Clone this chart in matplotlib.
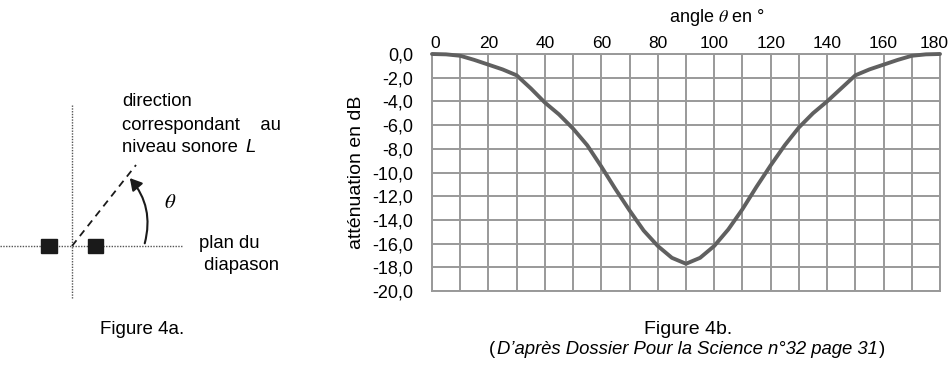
import numpy as np
import matplotlib
matplotlib.use("Agg")
import matplotlib.pyplot as plt
from matplotlib.patches import Rectangle, FancyArrowPatch
from matplotlib.transforms import ScaledTranslation

plt.rcParams['font.family'] = ['Liberation Sans', 'DejaVu Sans']
plt.rcParams['mathtext.fontset'] = 'stix'

# data
angles = [0, 5, 10, 15, 20, 25, 30, 35, 40, 45, 50, 55, 60, 65, 70, 75, 80, 85, 90,
          95, 100, 105, 110, 115, 120, 125, 130, 135, 140, 145, 150, 155, 160, 165, 170, 175, 180]
attenuation = [0.0, -0.03, -0.15, -0.5, -0.9, -1.3, -1.8, -2.9, -4.1, -5.1, -6.3, -7.7, -9.5,
               -11.4, -13.2, -14.9, -16.2, -17.2, -17.7,
               -17.2, -16.2, -14.8, -13.1, -11.2, -9.4, -7.7, -6.2, -5.0, -4.0, -2.9, -1.8,
               -1.3, -0.9, -0.5, -0.15, -0.03, 0.0]
x_grid = list(range(0, 181, 10))
y_ticks = list(range(0, -21, -2))

W, H = 953, 371
fig = plt.figure(figsize=(W / 100, H / 100), dpi=100)

# background axes in pixel coordinates for the sketch and captions
bg = fig.add_axes([0, 0, 1, 1])
bg.set_xlim(0, W)
bg.set_ylim(H, 0)
bg.axis('off')

# --- figure 4a : sketch ---
bg.plot([0, 183], [246, 246], color='#555555', lw=1, ls=(0, (1, 1)))
bg.plot([72, 72], [105, 298], color='#555555', lw=1, ls=(0, (1, 1)))
bg.add_patch(Rectangle((41, 239), 16, 14, color='#1a1a1a', zorder=3))
bg.add_patch(Rectangle((88, 239), 15, 14, color='#1a1a1a', zorder=3))
bg.plot([72, 136], [246, 165], color='#1a1a1a', lw=1.3, ls=(0, (4, 3)))
arc = FancyArrowPatch((144, 246), (128, 176), connectionstyle='arc3,rad=0.28',
                      arrowstyle='-|>,head_length=7,head_width=4', color='#1a1a1a', lw=1.5)
bg.add_patch(arc)
bg.text(170, 202, r'$\theta$', fontsize=15, ha='center', va='center')
txt_kw = dict(fontsize=13.3, va='center')
bg.text(122, 102, 'direction', **txt_kw)
bg.text(122, 125, 'correspondant    au', **txt_kw)
bg.text(122, 148, 'niveau sonore', **txt_kw)
bg.text(245, 148, 'L', style='italic', **txt_kw)
bg.text(199, 243, 'plan du', **txt_kw)
bg.text(199, 265, ' diapason', **txt_kw)
bg.text(142, 330, 'Figure 4a.', fontsize=13.5, ha='center', va='center')

# --- figure 4b captions ---
bg.text(688, 329, 'Figure 4b.', fontsize=14, ha='center', va='center')
cap = bg.text(687, 349, 'D\u2019après Dossier Pour la Science n°32 page 31', fontsize=13.3,
              ha='center', va='center', style='italic')
fig.canvas.draw()
bb = cap.get_window_extent().transformed(bg.transData.inverted())
bg.text(bb.x0 - 1, 349, '(', fontsize=13.3, ha='right', va='center')
bg.text(bb.x1 + 1, 349, ')', fontsize=13.3, ha='left', va='center')

# --- figure 4b chart ---
ax = fig.add_axes([432 / W, 1 - 291 / H, (940 - 432) / W, (291 - 54) / H])
ax.plot(angles, attenuation, color='#606060', lw=2.8, solid_capstyle='round',
        solid_joinstyle='round', zorder=3, clip_on=False)
ax.set_xlim(0, 180)
ax.set_ylim(-20, 0)
ax.grid(True, color='#999999', lw=1.4)
ax.set_axisbelow(True)
for s in ax.spines.values():
    s.set_color('#999999')
    s.set_linewidth(1.4)
ax.xaxis.tick_top()
ax.set_xticks(x_grid)
ax.set_xticklabels([str(v) if v % 20 == 0 else '' for v in x_grid], fontsize=12.5)
ax.set_yticks(y_ticks)
ax.set_yticklabels([('%.1f' % v).replace('.', ',') for v in y_ticks], fontsize=13)
ax.tick_params(length=0)
ax.tick_params(axis='x', pad=2)
ax.tick_params(axis='y', pad=13.5)
labels = ax.get_xticklabels()
labels[0].set_transform(labels[0].get_transform() + ScaledTranslation(3 / 100, 0, fig.dpi_scale_trans))
labels[-1].set_transform(labels[-1].get_transform() + ScaledTranslation(-6 / 100, 0, fig.dpi_scale_trans))

bg.text(717, 17, r'angle $\theta$ en °', fontsize=13, ha='center', va='center')
bg.text(357, 172, 'atténuation en dB', fontsize=14, rotation=90, ha='center', va='center')

fig.savefig('out.png', dpi=100)
